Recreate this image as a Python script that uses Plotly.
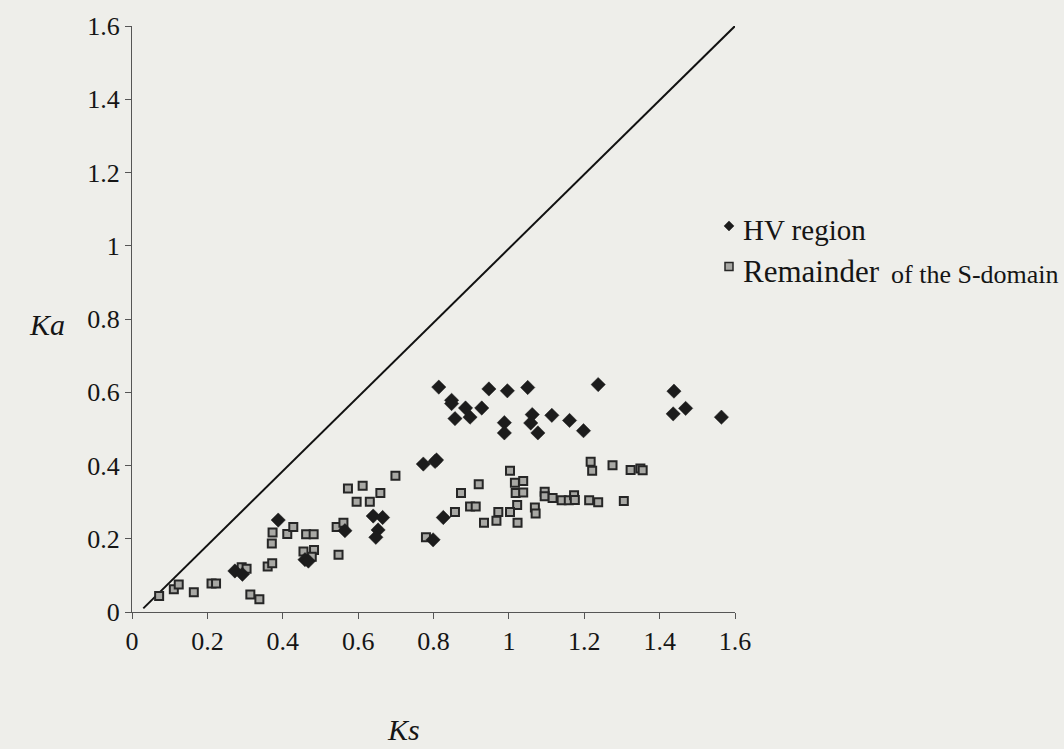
import plotly.graph_objects as go

# Ka / Ks pairs for the hypervariable (HV) region
hv_ks = [0.273, 0.293, 0.388, 0.459, 0.468, 0.565, 0.640, 0.665, 0.653, 0.647,
         0.773, 0.808, 0.804, 0.799, 0.826, 0.814, 0.848, 0.848, 0.885, 0.928,
         0.857, 0.897, 0.947, 0.996, 1.050, 0.988, 0.988, 1.062, 1.058, 1.077,
         1.114, 1.161, 1.198, 1.237, 1.438, 1.436, 1.469, 1.564]
hv_ka = [0.112, 0.103, 0.251, 0.143, 0.139, 0.222, 0.262, 0.258, 0.224, 0.204,
         0.404, 0.415, 0.411, 0.197, 0.258, 0.614, 0.578, 0.569, 0.557, 0.557,
         0.528, 0.532, 0.609, 0.604, 0.613, 0.517, 0.489, 0.539, 0.516, 0.489,
         0.537, 0.523, 0.495, 0.621, 0.603, 0.541, 0.556, 0.532]

# Ka / Ks pairs for the remainder of the S-domain
rem_ks = [0.072, 0.111, 0.124, 0.164, 0.211, 0.223, 0.314, 0.338, 0.291, 0.304,
          0.360, 0.372, 0.371, 0.373, 0.412, 0.428, 0.462, 0.482, 0.455, 0.483,
          0.477, 0.548, 0.543, 0.561, 0.573, 0.612, 0.596, 0.631, 0.659, 0.699,
          0.780, 0.857, 0.873, 0.897, 0.912, 0.920, 0.934, 0.967, 0.972, 1.003,
          1.016, 1.038, 1.018, 1.038, 1.022, 1.003, 1.023, 1.069, 1.071, 1.095,
          1.095, 1.116, 1.140, 1.159, 1.173, 1.175, 1.213, 1.237, 1.217, 1.221,
          1.275, 1.305, 1.323, 1.349, 1.355]
rem_ka = [0.044, 0.062, 0.075, 0.054, 0.078, 0.078, 0.048, 0.035, 0.122, 0.118,
          0.124, 0.133, 0.187, 0.217, 0.213, 0.232, 0.212, 0.212, 0.165, 0.169,
          0.151, 0.156, 0.232, 0.244, 0.337, 0.345, 0.301, 0.301, 0.325, 0.372,
          0.204, 0.273, 0.325, 0.288, 0.288, 0.349, 0.244, 0.249, 0.273, 0.386,
          0.353, 0.358, 0.325, 0.326, 0.292, 0.273, 0.244, 0.285, 0.269, 0.328,
          0.316, 0.311, 0.305, 0.305, 0.319, 0.306, 0.305, 0.300, 0.410, 0.386,
          0.401, 0.303, 0.388, 0.392, 0.387]

# Neutral-evolution reference line (Ka = Ks)
diag_ks = [0.03, 1.6]
diag_ka = [0.01, 1.6]

tick_vals = [0, 0.2, 0.4, 0.6, 0.8, 1.0, 1.2, 1.4, 1.6]
tick_text = ["0", "0.2", "0.4", "0.6", "0.8", "1", "1.2", "1.4", "1.6"]

BG = "#eeeeea"
INK = "#151515"
SERIF = "Liberation Serif"

W, H = 1064, 749
ML, MR, MT, MB = 132, 329, 20, 137
PW, PH = W - ML - MR, H - MT - MB


def px(x):
    return (x - ML) / PW


def py(y):
    return (H - MB - y) / PH


fig = go.Figure()

fig.add_trace(go.Scatter(
    x=diag_ks, y=diag_ka, mode="lines",
    line=dict(color="#111111", width=2), showlegend=False, hoverinfo="skip"))

fig.add_trace(go.Scatter(
    x=rem_ks, y=rem_ka, mode="markers", name="Remainder of the S-domain",
    marker=dict(symbol="square", size=8, color="#a8a8a4",
                line=dict(color="#262626", width=2)),
    showlegend=False))

fig.add_trace(go.Scatter(
    x=hv_ks, y=hv_ka, mode="markers", name="HV region",
    marker=dict(symbol="diamond", size=11, color="#1c1c1c",
                line=dict(color="#1c1c1c", width=0.5)),
    showlegend=False))

axis_common = dict(
    range=[0, 1.6], tickvals=tick_vals, ticktext=tick_text,
    showgrid=False, zeroline=False, showline=True,
    linecolor="#555555", linewidth=1, ticks="outside", ticklen=6,
    tickcolor="#555555", tickfont=dict(family=SERIF, size=26, color=INK),
)

fig.update_xaxes(**axis_common)
fig.update_yaxes(**axis_common)

# Legend drawn by hand: markers as shapes, labels as annotations
fig.add_shape(type="path", xref="paper", yref="paper",
              xsizemode="pixel", ysizemode="pixel",
              xanchor=px(729), yanchor=py(222),
              path="M 0 5 L 5 0 L 0 -5 L -5 0 Z",
              fillcolor="#1c1c1c", line=dict(color="#1c1c1c", width=0.5))
fig.add_shape(type="rect", xref="paper", yref="paper",
              xsizemode="pixel", ysizemode="pixel",
              xanchor=px(729), yanchor=py(263),
              x0=-4, x1=4, y0=-4, y1=4,
              fillcolor="#a8a8a4", line=dict(color="#262626", width=1.5))

fig.add_annotation(x=px(741), y=py(226), xref="paper", yref="paper",
                   xanchor="left", yanchor="middle", showarrow=False,
                   text="HV region",
                   font=dict(family=SERIF, size=29, color=INK))
fig.add_annotation(x=px(741), y=py(268), xref="paper", yref="paper",
                   xanchor="left", yanchor="middle", showarrow=False,
                   text="Remainder",
                   font=dict(family=SERIF, size=31, color=INK))
fig.add_annotation(x=px(889), y=py(271), xref="paper", yref="paper",
                   xanchor="left", yanchor="middle", showarrow=False,
                   text="of the S-domain",
                   font=dict(family=SERIF, size=26, color=INK))

# Axis titles
fig.add_annotation(x=px(47), y=py(322), xref="paper", yref="paper",
                   xanchor="center", yanchor="middle", showarrow=False,
                   text="<i>Ka</i>",
                   font=dict(family=SERIF, size=30, color=INK))
fig.add_annotation(x=px(403), y=py(731), xref="paper", yref="paper",
                   xanchor="center", yanchor="middle", showarrow=False,
                   text="<i>Ks</i>",
                   font=dict(family=SERIF, size=30, color=INK))

fig.update_layout(
    width=W, height=H,
    margin=dict(l=ML, r=MR, t=MT, b=MB),
    paper_bgcolor=BG, plot_bgcolor=BG,
    showlegend=False,
)

fig.write_html("out.html")
